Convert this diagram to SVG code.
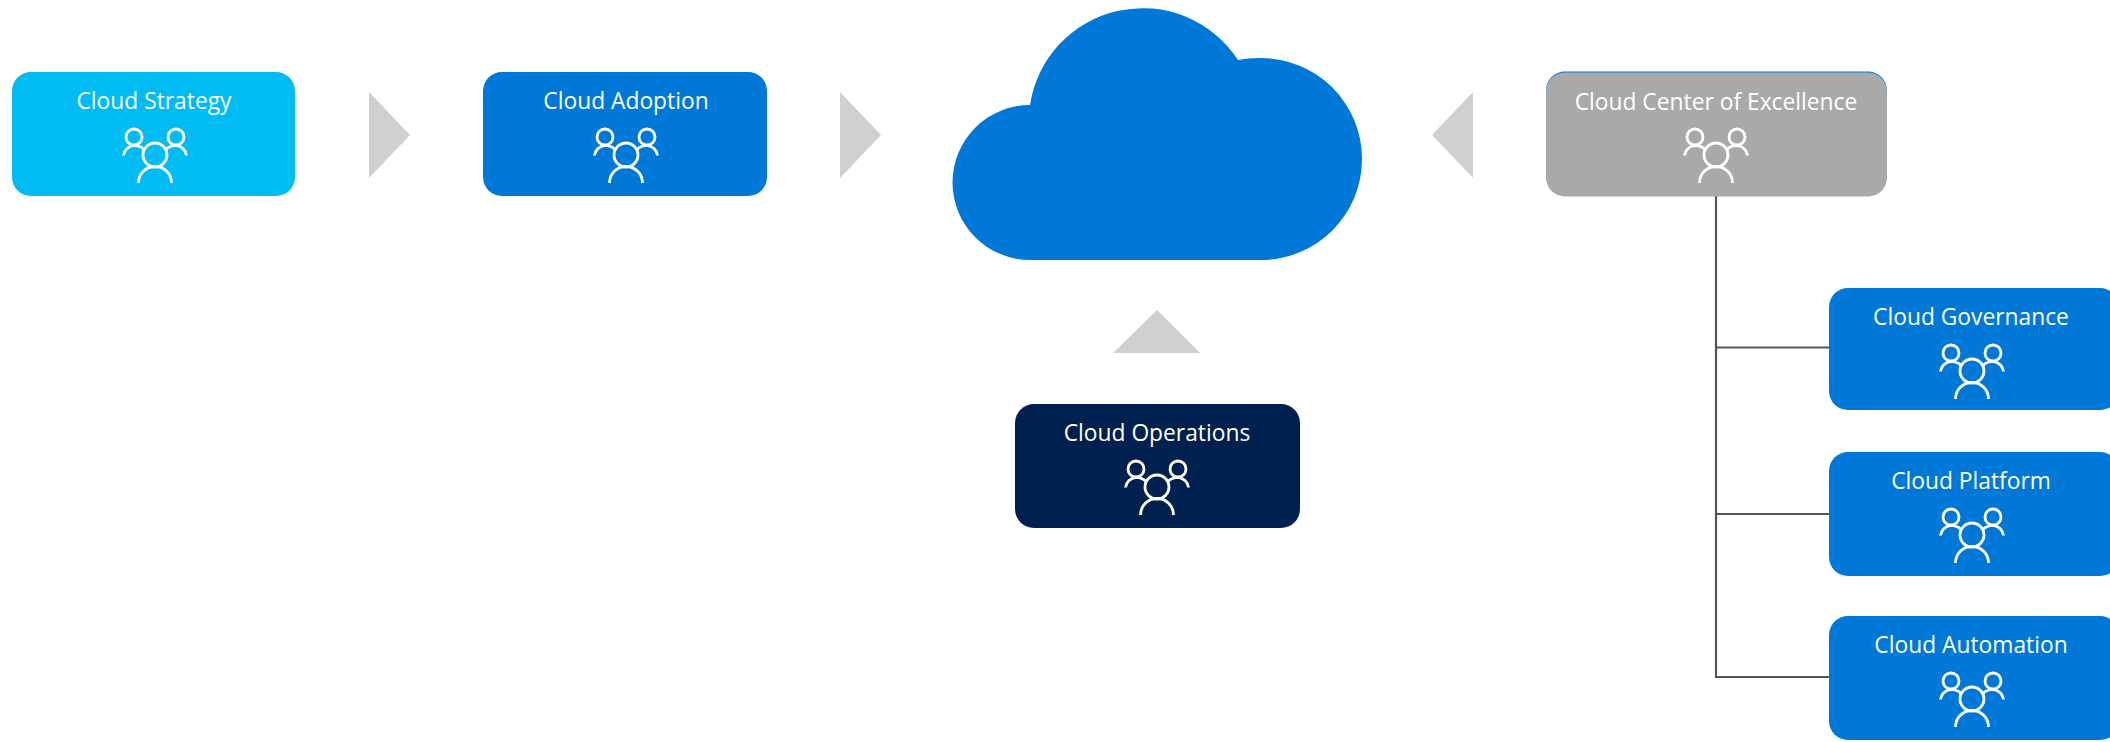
<svg xmlns="http://www.w3.org/2000/svg" width="2110" height="742" viewBox="0 0 2110 742">
<style>
.label{font-family:"Open Sans","Liberation Sans",sans-serif;font-size:22.800px;fill:#fff;text-anchor:middle}
.ico{fill:none;stroke:#fff;stroke-width:2.800;stroke-linecap:butt}
.tri{fill:#d0d0d0}
.blue{fill:#0078d7}
.line{fill:none;stroke:#555;stroke-width:2.200}
</style>
<defs>
<g id="people" class="ico">
<circle cx="-21" cy="65" r="8"/><circle cx="21" cy="65" r="8"/><circle cx="0" cy="83" r="12"/>
<path d="M-16.500 111A16.500 16.500 0 0 1 16.500 111"/>
<path d="M-31.500 83.500A12 11 0 0 1 -21 73.300Q-15 73.300 -11 77.500"/>
<path d="M31.500 83.500A12 11 0 0 0 21 73.300Q15 73.300 11 77.500"/>
</g>
</defs>
<rect width="2110" height="742" fill="#fff"/>
<g id="connectors">
<path class="line" d="M1716 196V677H1829M1716 347.500H1829M1716 514H1829"/>
<polygon id="arrow-strategy-adoption" class="tri" points="369,92 410,135 369,178"/>
<polygon id="arrow-adoption-cloud" class="tri" points="840,92 881,135 840,178"/>
<polygon id="arrow-coe-cloud" class="tri" points="1473,92 1432,135 1473,178"/>
<polygon id="arrow-ops-cloud" class="tri" points="1113,353 1157,310 1200,353"/>
</g>
<g id="cloud"><path class="blue" d="M1030 260A77.500 77.500 0 0 1 1030 105A113.800 113.800 0 0 1 1238 60A101 101 0 0 1 1261 58A101 101 0 0 1 1261 260Z"/></g>
<g id="strategy"><rect x="12" y="72" width="283" height="124" rx="19" fill="#00bcf2"/><text class="label" x="154" y="109">Cloud Strategy</text><use href="#people" transform="translate(155 72)"/></g>
<g id="adoption"><rect class="blue" x="483" y="72" width="284" height="124" rx="19"/><text class="label" x="626" y="109">Cloud Adoption</text><use href="#people" transform="translate(626 72)"/></g>
<g id="coe"><rect class="blue" x="1546" y="71.500" width="341" height="80" rx="19"/><rect x="1546" y="72.500" width="341" height="124" rx="19" fill="#a9a9a9"/><text class="label" x="1716" y="110">Cloud Center of Excellence</text><use href="#people" transform="translate(1716 72)"/></g>
<g id="governance"><rect class="blue" x="1829" y="288" width="290" height="122" rx="19"/><text class="label" x="1971" y="325">Cloud Governance</text><use href="#people" transform="translate(1972 288)"/></g>
<g id="platform"><rect class="blue" x="1829" y="452" width="290" height="124" rx="19"/><text class="label" x="1971" y="489">Cloud Platform</text><use href="#people" transform="translate(1972 452)"/></g>
<g id="automation"><rect class="blue" x="1829" y="616" width="290" height="124" rx="19"/><text class="label" x="1971" y="653">Cloud Automation</text><use href="#people" transform="translate(1972 616)"/></g>
<g id="operations"><rect x="1015" y="404" width="285" height="124" rx="19" fill="#002050"/><text class="label" x="1157" y="441">Cloud Operations</text><use href="#people" transform="translate(1157 404)"/></g>
</svg>
